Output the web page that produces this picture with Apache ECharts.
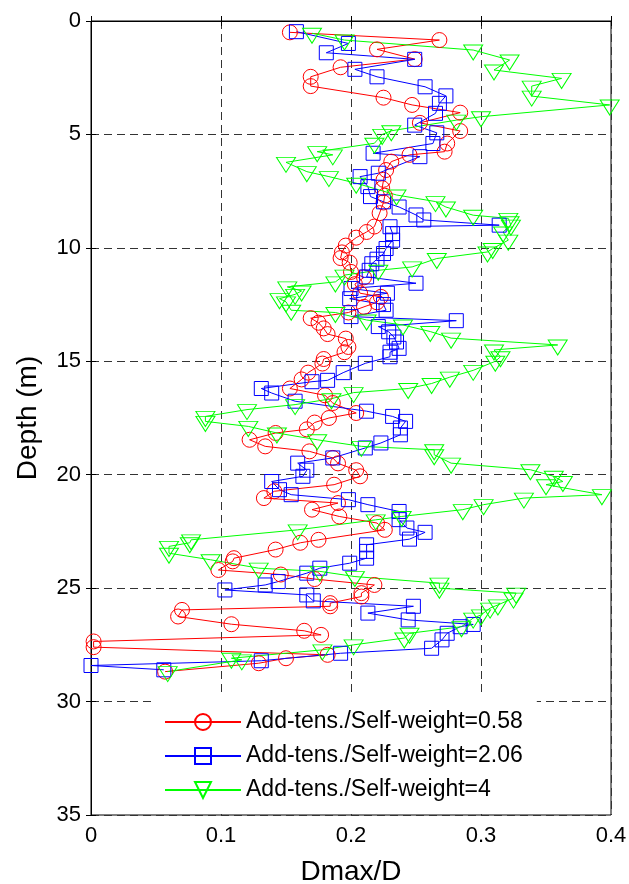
<!DOCTYPE html>
<html>
<head>
<meta charset="utf-8">
<script src="https://cdn.jsdelivr.net/npm/echarts@6/dist/echarts.min.js"></script>
<style>
  html, body { margin: 0; padding: 0; background: #fff; }
  #main { width: 629px; height: 884px; }
</style>
</head>
<body>
<div id="main"></div>
<script>
// tick labels
var xTicks = [0, 0.1, 0.2, 0.3, 0.4];
var yTicks = [0, 5, 10, 15, 20, 25, 30, 35];

var names = ['Add-tens./Self-weight=0.58', 'Add-tens./Self-weight=2.06', 'Add-tens./Self-weight=4'];

// ratio 0.58 (red circles)
var depthA = [0.5, 0.84, 1.25, 1.68, 2.04, 2.46, 2.87, 3.38, 3.7, 4.04, 4.49, 4.85, 5.4, 5.76, 5.9, 6.2,
    6.57, 7.0, 7.37, 7.7, 8.0, 8.47, 9.06, 9.3, 9.55, 9.9, 10.2, 10.45, 10.65, 11.06, 11.3, 11.6,
    12.0, 12.16, 12.4, 12.6, 12.85, 13.1, 13.3, 13.55, 13.8, 14.0, 14.37, 14.6, 14.9, 15.1, 15.5, 15.8,
    16.2, 16.5, 16.84, 17.28, 17.5, 17.7, 18.0, 18.16, 18.46, 18.75, 18.97, 19.26, 19.5, 19.8, 20.07, 20.44,
    20.73, 21.03, 21.25, 21.54, 21.84, 22.13, 22.43, 22.87, 23.0, 23.3, 23.68, 23.82, 24.2, 24.4, 24.6, 24.86,
    25.22, 25.37, 25.66, 25.8, 25.96, 26.25, 26.59, 26.88, 27.06, 27.35, 27.6, 27.94, 28.09, 28.31, 28.68];
var valueA = [0.153, 0.268, 0.22, 0.249, 0.192, 0.169, 0.169, 0.225, 0.247, 0.284, 0.253, 0.284, 0.274, 0.272, 0.245, 0.231,
    0.227, 0.225, 0.224, 0.226, 0.225, 0.222, 0.218, 0.212, 0.204, 0.196, 0.193, 0.192, 0.199, 0.2, 0.21, 0.203,
    0.207, 0.223, 0.22, 0.21, 0.198, 0.169, 0.175, 0.179, 0.182, 0.196, 0.198, 0.195, 0.179, 0.178, 0.167, 0.162,
    0.153, 0.18, 0.186, 0.204, 0.183, 0.172, 0.166, 0.142, 0.122, 0.134, 0.168, 0.186, 0.19, 0.204, 0.207, 0.187,
    0.141, 0.133, 0.19, 0.17, 0.191, 0.22, 0.226, 0.175, 0.161, 0.142, 0.11, 0.109, 0.098, 0.146, 0.172, 0.218,
    0.208, 0.208, 0.184, 0.184, 0.07, 0.067, 0.108, 0.164, 0.177, 0.002, 0.002, 0.182, 0.15, 0.129, 0.057];

// ratio 2.06 (blue squares)
var depthB = [0.47, 0.99, 1.4, 1.69, 2.13, 2.46, 2.9, 3.3, 3.63, 4.07, 4.59, 4.93, 5.4, 5.83, 5.98, 6.71,
    6.86, 7.3, 7.74, 7.97, 8.2, 8.55, 8.77, 9.0, 9.07, 9.37, 9.66, 10.03, 10.25, 10.5, 10.7, 10.99,
    11.28, 11.56, 11.79, 12.0, 12.24, 12.5, 12.75, 13.03, 13.21, 13.47, 13.7, 13.93, 14.15, 14.43, 14.6, 14.8,
    15.09, 15.5, 15.84, 15.9, 16.2, 16.4, 16.76, 17.2, 17.43, 17.65, 17.94, 18.24, 18.6, 18.82, 19.26, 19.49,
    19.8, 20.07, 20.3, 20.66, 20.88, 21.1, 21.32, 21.62, 21.98, 22.35, 22.54, 22.84, 23.09, 23.38, 23.68, 23.9,
    24.12, 24.34, 24.71, 24.86, 25.08, 25.3, 25.56, 25.8, 26.1, 26.4, 26.6, 26.7, 26.99, 27.28, 27.65, 27.87,
    28.2, 28.41, 28.6];
var valueB = [0.158, 0.198, 0.181, 0.249, 0.203, 0.22, 0.257, 0.273, 0.268, 0.265, 0.249, 0.266, 0.263, 0.217, 0.253, 0.221,
    0.207, 0.213, 0.215, 0.225, 0.237, 0.25, 0.256, 0.314, 0.23, 0.232, 0.232, 0.227, 0.225, 0.22, 0.216, 0.214,
    0.212, 0.25, 0.2, 0.228, 0.199, 0.225, 0.227, 0.2, 0.281, 0.221, 0.229, 0.233, 0.235, 0.237, 0.23, 0.23,
    0.211, 0.194, 0.182, 0.17, 0.131, 0.139, 0.157, 0.212, 0.232, 0.242, 0.238, 0.238, 0.223, 0.211, 0.186, 0.159,
    0.166, 0.163, 0.139, 0.145, 0.154, 0.198, 0.213, 0.237, 0.237, 0.243, 0.257, 0.245, 0.212, 0.212, 0.212, 0.199,
    0.176, 0.166, 0.144, 0.134, 0.103, 0.166, 0.171, 0.248, 0.213, 0.244, 0.294, 0.284, 0.274, 0.27, 0.262, 0.192,
    0.131, 0.0, 0.056];

// ratio 4 (green triangles)
var depthC = [0.54, 0.84, 1.28, 1.72, 2.16, 2.53, 2.87, 3.31, 3.7, 4.22, 4.37, 4.84, 5.0, 5.39, 5.76, 5.9,
    6.23, 6.64, 6.86, 7.15, 7.67, 7.96, 8.2, 8.56, 8.7, 8.85, 9.0, 9.3, 9.66, 10.03, 10.18, 10.47,
    10.84, 10.99, 11.2, 11.5, 11.72, 11.9, 12.05, 12.24, 12.38, 12.75, 12.85, 13.18, 13.4, 13.69, 13.98, 14.28,
    14.5, 14.8, 15.0, 15.4, 15.7, 15.98, 16.2, 16.38, 16.65, 16.91, 17.13, 17.43, 17.65, 17.87, 18.16, 18.46,
    18.75, 18.9, 19.12, 19.49, 19.78, 20.07, 20.3, 20.44, 20.88, 21.03, 21.32, 21.54, 21.84, 21.99, 22.43, 22.87,
    23.0, 23.16, 23.46, 23.75, 24.12, 24.26, 24.49, 24.78, 25.0, 25.22, 25.44, 25.74, 25.88, 26.18, 26.32, 26.7,
    26.99, 27.2, 27.5, 27.72, 28.09, 28.16, 28.68];
var valueC = [0.17, 0.195, 0.294, 0.322, 0.31, 0.362, 0.339, 0.339, 0.399, 0.3, 0.281, 0.231, 0.224, 0.218, 0.174, 0.186,
    0.15, 0.166, 0.183, 0.204, 0.235, 0.265, 0.273, 0.294, 0.321, 0.322, 0.323, 0.317, 0.321, 0.309, 0.305, 0.266,
    0.247, 0.221, 0.195, 0.188, 0.151, 0.162, 0.157, 0.145, 0.15, 0.154, 0.188, 0.212, 0.24, 0.261, 0.277, 0.359,
    0.31, 0.315, 0.311, 0.294, 0.276, 0.262, 0.244, 0.202, 0.185, 0.157, 0.12, 0.088, 0.088, 0.121, 0.143, 0.174,
    0.208, 0.264, 0.264, 0.277, 0.338, 0.356, 0.363, 0.35, 0.393, 0.333, 0.302, 0.286, 0.239, 0.219, 0.159, 0.077,
    0.076, 0.06, 0.06, 0.092, 0.129, 0.176, 0.203, 0.268, 0.268, 0.327, 0.325, 0.313, 0.307, 0.3, 0.294, 0.285,
    0.245, 0.241, 0.202, 0.178, 0.108, 0.116, 0.059];

var font = "'Liberation Sans', Arial, sans-serif";

function pairs(vals, depths) {
    var out = [];
    for (var i = 0; i < vals.length; i++) {
        out.push([vals[i], depths[i]]);
    }
    return out;
}

function makeSeries(name, color, symbol, size, offset, vals, depths) {
    return {
        name: name,
        type: 'line',
        data: pairs(vals, depths),
        symbol: symbol,
        symbolSize: size,
        symbolOffset: offset,
        showAllSymbol: true,
        animation: false,
        lineStyle: { color: color, width: 1 },
        itemStyle: { color: 'rgba(0,0,0,0)', borderColor: color, borderWidth: 1 },
        emphasis: { disabled: true }
    };
}

var myChart = echarts.init(document.getElementById('main'));

var dash = [8, 5];
var option = {
    backgroundColor: '#fff',
    animation: false,
    textStyle: { fontFamily: font },
    grid: {
        left: 91,
        right: 18,
        top: 21,
        bottom: 69,
        containLabel: false,
        outerBoundsMode: 'none',
        show: true,
        borderColor: '#000',
        borderWidth: 1
    },
    legend: {
        orient: 'vertical',
        left: 155,
        top: 693,
        padding: [17, 14, 10, 9],
        backgroundColor: '#fff',
        itemWidth: 76,
        itemHeight: 20,
        itemGap: 10,
        textStyle: { fontSize: 23, color: '#000', fontFamily: font, lineHeight: 24 },
        data: names
    },
    xAxis: [{
        type: 'value',
        min: xTicks[0],
        max: xTicks[xTicks.length - 1],
        interval: 0.1,
        name: 'Dmax/D',
        nameLocation: 'middle',
        nameGap: 43,
        nameTextStyle: { fontSize: 28, color: '#000', fontFamily: font },
        axisLine: { show: true, lineStyle: { color: '#000', width: 1 } },
        axisTick: { show: true, inside: true, length: 5, lineStyle: { color: '#000' } },
        axisLabel: { fontSize: 22, color: '#000', margin: 10, fontFamily: font },
        splitLine: { show: true, lineStyle: { color: '#333', type: dash, width: 1 } }
    }, {
        type: 'value',
        position: 'top',
        min: xTicks[0],
        max: xTicks[xTicks.length - 1],
        interval: 0.1,
        axisLine: { show: true, lineStyle: { color: '#000', width: 1 } },
        axisTick: { show: true, inside: true, length: 5, lineStyle: { color: '#000' } },
        axisLabel: { show: false },
        splitLine: { show: false }
    }],
    yAxis: [{
        type: 'value',
        inverse: true,
        min: yTicks[0],
        max: yTicks[yTicks.length - 1],
        interval: 5,
        name: 'Depth (m)',
        nameLocation: 'middle',
        nameGap: 49,
        nameRotate: 90,
        nameTextStyle: { fontSize: 28, color: '#000', fontFamily: font },
        axisLine: { show: true, lineStyle: { color: '#000', width: 1 } },
        axisTick: { show: true, inside: true, length: 5, lineStyle: { color: '#000' } },
        axisLabel: { fontSize: 22, color: '#000', margin: 10, fontFamily: font },
        splitLine: { show: true, lineStyle: { color: '#333', type: dash, width: 1 } }
    }, {
        type: 'value',
        position: 'right',
        inverse: true,
        min: yTicks[0],
        max: yTicks[yTicks.length - 1],
        interval: 5,
        axisLine: { show: true, lineStyle: { color: '#000', width: 1 } },
        axisTick: { show: true, inside: true, length: 5, lineStyle: { color: '#000' } },
        axisLabel: { show: false },
        splitLine: { show: false }
    }],
    series: [
        makeSeries(names[0], '#ff0000', 'circle', 15, [0, 0], valueA, depthA),
        makeSeries(names[1], '#0000ff', 'rect', 14, [0, 0], valueB, depthB),
        makeSeries(names[2], '#00ff00', 'path://M0,0L20,0L10,17Z', [19, 15], [0, 2.5], valueC, depthC)
    ]
};
myChart.setOption(option);
</script>
</body>
</html>
